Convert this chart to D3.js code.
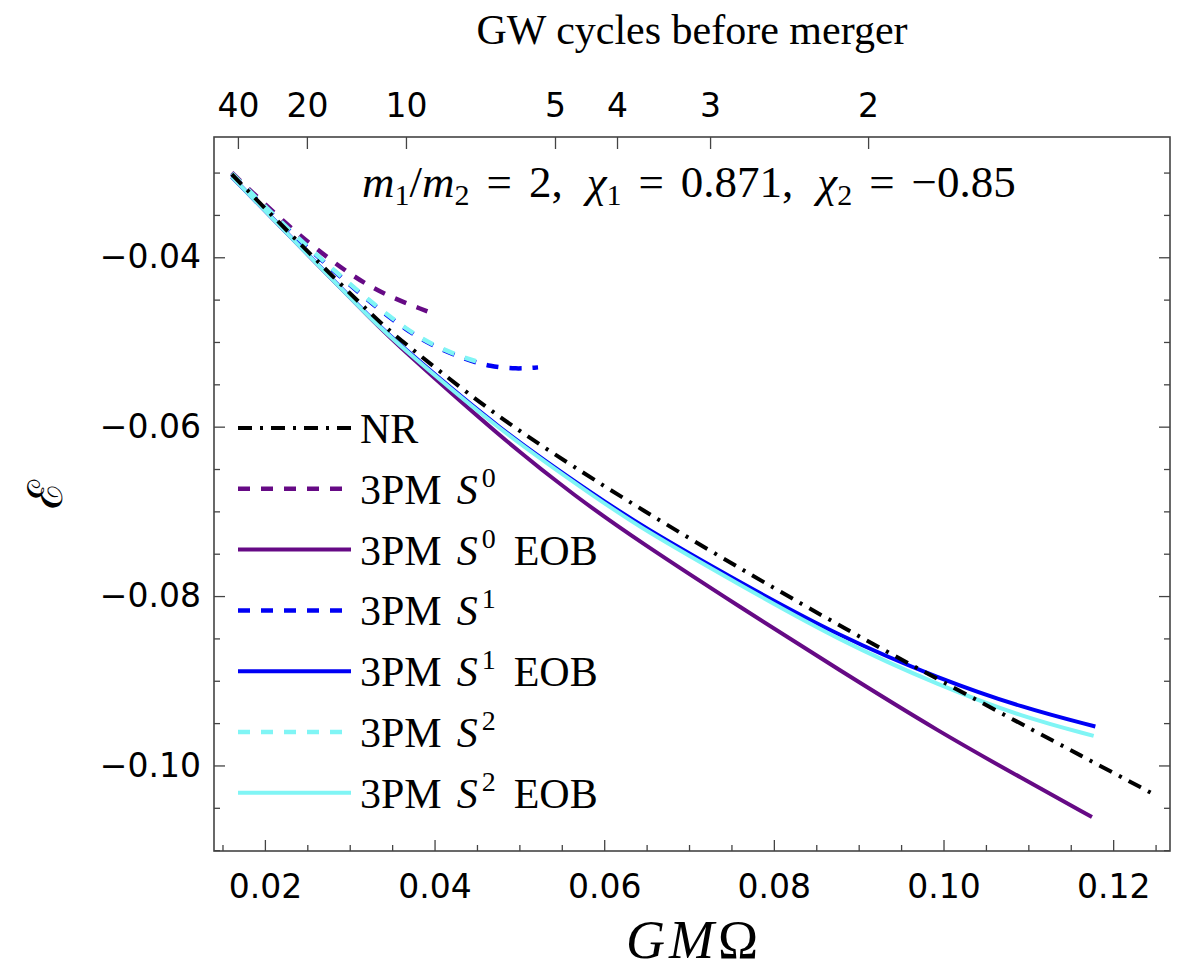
<!DOCTYPE html>
<html>
<head>
<meta charset="utf-8">
<script src="https://cdn.jsdelivr.net/npm/d3@7"></script>
<style>
body{margin:0;background:#fff}
svg{display:block}
</style>
</head>
<body>
<svg id="chart" width="1186" height="971"></svg>
<script>
// values: GM*Omega on x, binding energy on y
var nrX   = [0.0161, 0.0241, 0.0332, 0.0359, 0.0458, 0.0532, 0.0642, 0.0776, 0.0890, 0.0969, 0.1086, 0.1165, 0.1246];
var nrE   = [-0.0302, -0.0384, -0.0474, -0.0497, -0.0576, -0.0627, -0.0697, -0.0777, -0.0842, -0.0885, -0.0948, -0.0990, -0.1033];

var s0X   = [0.0161, 0.0221, 0.0280, 0.0332, 0.0392];
var s0E   = [-0.0300, -0.0358, -0.0406, -0.0441, -0.0464];

var s0eobX = [0.0161, 0.0241, 0.0332, 0.0359, 0.0477, 0.0568, 0.0642, 0.0760, 0.0878, 0.0996, 0.1094, 0.1175];
var s0eobE = [-0.0305, -0.0387, -0.0480, -0.0506, -0.0612, -0.0684, -0.0736, -0.0813, -0.0888, -0.0961, -0.1016, -0.1061];

var s1X   = [0.0161, 0.0221, 0.0283, 0.0330, 0.0367, 0.0398, 0.0438, 0.0465, 0.0497, 0.0522];
var s1E   = [-0.0302, -0.0362, -0.0418, -0.0458, -0.0486, -0.0505, -0.0521, -0.0529, -0.0532, -0.0530];

var s1eobX = [0.0161, 0.0241, 0.0332, 0.0359, 0.0477, 0.0595, 0.0642, 0.0760, 0.0878, 0.0996, 0.1094, 0.1179];
var s1eobE = [-0.0305, -0.0387, -0.0479, -0.0503, -0.0604, -0.0685, -0.0716, -0.0784, -0.0848, -0.0898, -0.0932, -0.0954];

var s2X   = [0.0161, 0.0221, 0.0283, 0.0330, 0.0367, 0.0398, 0.0438, 0.0450];
var s2E   = [-0.0301, -0.0361, -0.0417, -0.0457, -0.0485, -0.0504, -0.0520, -0.0523];

var s2eobX = [0.0161, 0.0241, 0.0332, 0.0359, 0.0477, 0.0595, 0.0642, 0.0760, 0.0878, 0.0996, 0.1094, 0.1177];
var s2eobE = [-0.0305, -0.0387, -0.0480, -0.0504, -0.0605, -0.0687, -0.0719, -0.0787, -0.0853, -0.0906, -0.0943, -0.0965];

// top axis: GW cycles left before merger, placed at these frequencies
var cycleLabels = ["40", "20", "10", "5", "4", "3", "2"];
var cycleFreq   = [0.01682, 0.02495, 0.03663, 0.05420, 0.06151, 0.07248, 0.09111];

var xMajor = [0.02, 0.04, 0.06, 0.08, 0.10, 0.12];
var yMajor = [-0.10, -0.08, -0.06, -0.04];

var purple = '#660a85', blue = '#0000f5', cyan = '#80f5f5';

var series = [
  {sup: '',  eob: false, xs: nrX,    ys: nrE,    color: '#000', dash: '14,8,3,8', w: 4},
  {sup: '0', eob: false, xs: s0X,    ys: s0E,    color: purple, dash: '12,11',    w: 4.5},
  {sup: '0', eob: true,  xs: s0eobX, ys: s0eobE, color: purple, dash: null,       w: 4},
  {sup: '1', eob: false, xs: s1X,    ys: s1E,    color: blue,   dash: '12,11',    w: 4.5},
  {sup: '1', eob: true,  xs: s1eobX, ys: s1eobE, color: blue,   dash: null,       w: 4},
  {sup: '2', eob: false, xs: s2X,    ys: s2E,    color: cyan,   dash: '12,11',    w: 4.5},
  {sup: '2', eob: true,  xs: s2eobX, ys: s2eobE, color: cyan,   dash: null,       w: 4}
];

var svg = d3.select('#chart');
var L = 214, R = 1170, T = 137, B = 851;

var x = d3.scaleLinear().domain([0.0140, 0.1267]).range([L, R]);
var y = d3.scaleLinear().domain([-0.1101, -0.0258]).range([B, T]);

var sans = 'DejaVu Sans', serif = 'Liberation Serif';

svg.append('clipPath').attr('id', 'clip')
  .append('rect').attr('x', L).attr('y', T).attr('width', R - L).attr('height', B - T);

// minor ticks every 0.005
var xMinor = d3.range(0.015, 0.1251, 0.005).filter(v => !xMajor.some(m => Math.abs(m - v) < 1e-6));
var yMinor = d3.range(-0.110, -0.0299, 0.005).filter(v => !yMajor.some(m => Math.abs(m - v) < 1e-6));

function styleAxis(g) {
  g.select('.domain').remove();
  g.selectAll('line').attr('stroke', '#444').attr('stroke-width', 1.3);
  g.selectAll('text').attr('font-family', sans).attr('font-size', 33).attr('fill', '#000');
}

// bottom
svg.append('g').attr('transform', 'translate(0,' + B + ')')
  .call(d3.axisBottom(x).tickValues(xMajor).tickFormat(d3.format('.2f')).tickSize(-11).tickPadding(24))
  .call(styleAxis);
svg.append('g').attr('transform', 'translate(0,' + B + ')')
  .call(d3.axisBottom(x).tickValues(xMinor).tickFormat('').tickSize(-6))
  .call(styleAxis);

// left
svg.append('g').attr('transform', 'translate(' + L + ',0)')
  .call(d3.axisLeft(y).tickValues(yMajor).tickFormat(d3.format('.2f')).tickSize(-11).tickPadding(13))
  .call(styleAxis);
svg.append('g').attr('transform', 'translate(' + L + ',0)')
  .call(d3.axisLeft(y).tickValues(yMinor).tickFormat('').tickSize(-6))
  .call(styleAxis);

// right, no labels
svg.append('g').attr('transform', 'translate(' + R + ',0)')
  .call(d3.axisRight(y).tickValues(yMajor).tickFormat('').tickSize(-11))
  .call(styleAxis);
svg.append('g').attr('transform', 'translate(' + R + ',0)')
  .call(d3.axisRight(y).tickValues(yMinor).tickFormat('').tickSize(-6))
  .call(styleAxis);

// top: cycles
svg.append('g').attr('transform', 'translate(0,' + T + ')')
  .call(d3.axisTop(x).tickValues(cycleFreq).tickFormat((d, i) => cycleLabels[i]).tickSize(-12).tickPadding(20))
  .call(styleAxis);

// frame
svg.append('rect').attr('x', L).attr('y', T).attr('width', R - L).attr('height', B - T)
  .attr('fill', 'none').attr('stroke', '#444').attr('stroke-width', 1.6);

var line = d3.line().x(d => x(d[0])).y(d => y(d[1])).curve(d3.curveBasis);

var plot = svg.append('g').attr('clip-path', 'url(#clip)');
// NR last so it sits on top
series.slice(1).concat([series[0]]).forEach(function (s) {
  plot.append('path')
    .attr('d', line(s.xs.map((v, i) => [v, s.ys[i]])))
    .attr('fill', 'none')
    .attr('stroke', s.color)
    .attr('stroke-width', s.w)
    .attr('stroke-dasharray', s.dash)
    .attr('stroke-linecap', 'butt');
});

// legend
var leg = svg.append('g');
series.forEach(function (s, i) {
  var cy = 428 + i * 60.8;
  leg.append('line').attr('x1', 238).attr('x2', 351).attr('y1', cy).attr('y2', cy)
    .attr('stroke', s.color).attr('stroke-width', s.w).attr('stroke-dasharray', s.dash);
  var t = leg.append('text').attr('x', 360).attr('y', cy + 15)
    .attr('font-family', serif).attr('font-size', 42).attr('fill', '#000');
  if (!s.sup) { t.text('NR'); return; }
  t.append('tspan').text('3PM');
  t.append('tspan').attr('dx', 15).attr('font-style', 'italic').text('S');
  t.append('tspan').attr('dx', 4).attr('dy', -17).attr('font-size', 28).text(s.sup);
  if (s.eob) t.append('tspan').attr('dx', 18).attr('dy', 17).text('EOB');
});

// parameters, with math-style spacing around "=" and after commas
var ann = svg.append('text').attr('x', 362).attr('y', 197)
  .attr('font-family', serif).attr('font-size', 45).attr('fill', '#000');
function piece(txt, opt) {
  var t = ann.append('tspan').text(txt);
  opt = opt || {};
  if (opt.it) t.attr('font-style', 'italic');
  if (opt.sub) t.attr('font-size', 30);
  if (opt.dy) t.attr('dy', opt.dy);
  if (opt.dx) t.attr('dx', opt.dx);
  return t;
}
piece('m', {it: 1});
piece('1', {sub: 1, dy: 8});
piece('/', {dy: -8});
piece('m', {it: 1});
piece('2', {sub: 1, dy: 8});
piece('=', {dy: -8, dx: 17});
piece('2,', {dx: 17});
piece('χ', {it: 1, dx: 24});
piece('1', {sub: 1, dy: 8});
piece('=', {dy: -8, dx: 17});
piece('0.871,', {dx: 17});
piece('χ', {it: 1, dx: 24});
piece('2', {sub: 1, dy: 8});
piece('=', {dy: -8, dx: 17});
piece('\u22120.85', {dx: 17});

// axis titles
svg.append('text').attr('x', (L + R) / 2).attr('y', 44).attr('text-anchor', 'middle')
  .attr('font-family', serif).attr('font-size', 42).text('GW cycles before merger');

var xt = svg.append('text').attr('x', (L + R) / 2 + 2).attr('y', 958).attr('text-anchor', 'middle')
  .attr('font-family', serif).attr('font-size', 54).style('letter-spacing', '4px');
xt.append('tspan').attr('font-style', 'italic').text('GM');
xt.append('tspan').text('\u03A9');

svg.append('text').attr('transform', 'translate(62,' + (T + B) / 2 + ') rotate(-90)')
  .attr('text-anchor', 'middle').attr('font-family', 'DejaVu Serif').attr('font-size', 48)
  .text('\u2130');
</script>
</body>
</html>
